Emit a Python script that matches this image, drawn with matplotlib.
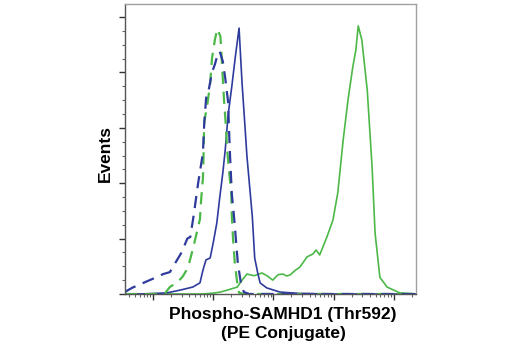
import matplotlib
matplotlib.use("Agg")
import matplotlib.pyplot as plt
import numpy as np
from matplotlib.ticker import LogLocator, MultipleLocator, NullFormatter

# histogram traces: x as log10 of intensity, y as events (peak ~ 100)
blue_dash_x = [1.53, 1.65, 1.87, 2.03, 2.17, 2.28, 2.45, 2.48, 2.57, 2.62, 2.68, 2.75, 2.83,
               2.85, 2.88, 2.89, 2.92, 2.98, 3.03, 3.08, 3.11, 3.16, 3.20, 3.25, 3.26, 3.28,
               3.31, 3.35, 3.41, 3.46, 3.51, 3.60, 6.40]
blue_dash_y = [0.7, 2.2, 4.3, 5.8, 7.2, 7.9, 14.1, 15.2, 20.0, 20.6, 29.0, 40.0, 51.0,
               61.0, 70.0, 72.0, 73.0, 80.0, 83.0, 87.0, 87.5, 84.0, 78.0, 69.0, 61.0, 50.0,
               36.0, 27.0, 11.0, 4.0, 0.7, 0.0, 0.0]

green_dash_x = [1.53, 2.00, 2.20, 2.28, 2.42, 2.50, 2.58, 2.66, 2.78, 2.80, 2.83, 2.84,
                2.85, 2.90, 2.95, 2.98, 3.03, 3.07, 3.12, 3.16, 3.18, 3.21, 3.23, 3.26,
                3.30, 3.31, 3.33, 3.36, 3.40, 3.43, 3.50, 6.40]
green_dash_y = [0.0, 0.0, 0.3, 2.5, 4.5, 6.5, 9.5, 16.0, 27.0, 34.0, 42.0, 50.0,
                62.0, 68.0, 76.0, 85.0, 92.0, 95.7, 93.0, 78.0, 70.0, 61.0, 53.0, 45.0,
                37.0, 28.0, 20.0, 11.0, 4.0, 0.5, 0.0, 0.0]

blue_solid_x = [1.53, 1.80, 2.23, 2.45, 2.66, 2.78, 2.83, 2.88, 2.95, 3.00, 3.06, 3.11,
                3.16, 3.20, 3.25, 3.31, 3.37, 3.43, 3.48, 3.53, 3.56, 3.65, 3.69, 3.74,
                3.78, 3.89, 4.11, 4.44, 5.00, 6.40]
blue_solid_y = [0.0, 0.0, 0.4, 1.4, 2.5, 4.0, 8.6, 12.3, 13.0, 18.4, 25.6, 35.0,
                43.7, 52.0, 65.0, 75.0, 86.0, 96.0, 76.0, 60.0, 50.0, 28.0, 13.0, 7.6,
                4.0, 2.2, 0.7, 0.2, 0.0, 0.0]

green_solid_x = [1.53, 2.80, 3.00, 3.12, 3.25, 3.40, 3.48, 3.56, 3.68, 3.81, 3.90, 3.99,
                 4.08, 4.16, 4.22, 4.28, 4.36, 4.44, 4.56, 4.66, 4.71, 4.77, 4.89, 4.99,
                 5.07, 5.16, 5.24, 5.32, 5.37, 5.41, 5.47, 5.56, 5.64, 5.69, 5.77, 5.89,
                 6.10, 6.40]
green_solid_y = [0.0, 0.0, 0.3, 0.7, 1.5, 2.5, 5.0, 7.2, 6.6, 7.6, 6.5, 5.0,
                 7.0, 7.2, 6.5, 6.9, 8.5, 9.7, 13.4, 14.5, 15.9, 14.1, 20.6, 26.7,
                 36.5, 55.6, 70.0, 82.0, 88.0, 96.8, 91.7, 73.6, 46.0, 22.0, 6.0, 2.5,
                 0.4, 0.0]

blue = "#2e3b9c"
green = "#4cb848"

fig = plt.figure(figsize=(5.2, 3.5), dpi=100)
ax = fig.add_axes([0.2404, 0.16, 0.5596, 0.8286])

ax.plot(10 ** np.array(green_solid_x), green_solid_y, color=green, lw=1.2)
ax.plot(10 ** np.array(blue_solid_x), blue_solid_y, color=blue, lw=1.2)
ax.plot(10 ** np.array(green_dash_x), green_dash_y, color=green, lw=1.6, dashes=(5.5, 3.5))
ax.plot(10 ** np.array(blue_dash_x), blue_dash_y, color=blue, lw=1.6, dashes=(5.5, 3.5))

ax.set_xscale("log")
ax.set_xlim(10 ** 1.535, 10 ** 6.37)
ax.set_ylim(0, 104.7)

ax.xaxis.set_major_locator(LogLocator(base=10))
ax.xaxis.set_minor_locator(LogLocator(base=10, subs=np.arange(2, 10)))
ax.xaxis.set_major_formatter(NullFormatter())
ax.xaxis.set_minor_formatter(NullFormatter())
ax.yaxis.set_major_locator(MultipleLocator(20))
ax.yaxis.set_minor_locator(MultipleLocator(5))
ax.yaxis.set_major_formatter(NullFormatter())

ax.tick_params(axis="both", which="major", length=4, width=1.0, color="#333333")
ax.tick_params(axis="both", which="minor", length=2.5, width=0.8, color="#666666")

for side in ["left", "bottom"]:
    ax.spines[side].set_color("#555555")
    ax.spines[side].set_linewidth(1.0)
for side in ["top", "right"]:
    ax.spines[side].set_color("#a0a0a0")
    ax.spines[side].set_linewidth(1.0)

lab_font = ["Liberation Sans", "DejaVu Sans"]
ax.set_xlabel("Phospho-SAMHD1 (Thr592)\n(PE Conjugate)", fontsize=12.5, fontweight="bold",
              family=lab_font, linespacing=1.3)
ax.xaxis.set_label_coords(0.543, -0.045)
ax.set_ylabel("Events", fontsize=12.5, fontweight="bold", family=lab_font)
ax.yaxis.set_label_coords(-0.04, 0.485)

plt.savefig("out.png", dpi=100)
